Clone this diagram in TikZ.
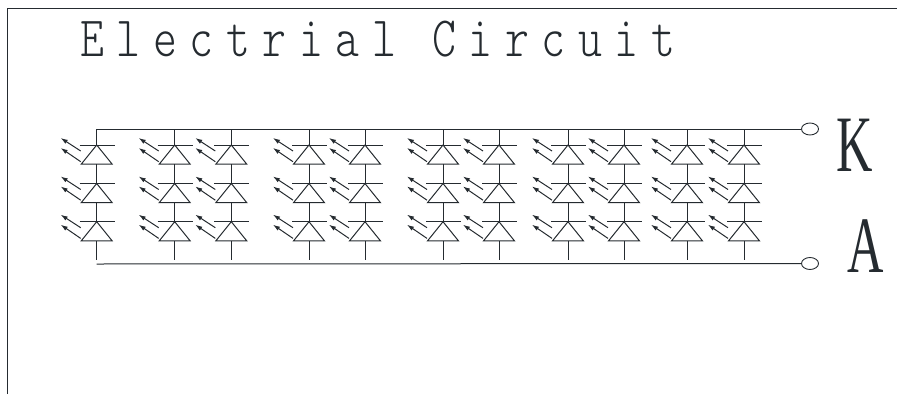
\documentclass[tikz,border=0pt]{standalone}
\usepackage{fontspec}
\usetikzlibrary{arrows.meta,shapes.geometric,calc}
\setmainfont{Liberation Serif}
\newfontfamily\titlefont[LetterSpace=27.5]{Latin Modern Mono Light}
\definecolor{ink}{HTML}{252B30}
\tikzset{
  wire/.style={draw=ink,line width=1pt},
  rail/.style={draw=ink,line width=1pt},
  light/.style={draw=ink,line width=1pt,-{Latex[length=7pt,width=4.6pt]}},
  terminal/.style={draw=ink,line width=0.9pt,ellipse,minimum width=17pt,minimum height=12pt,inner sep=0pt,fill=white},
  bigletter/.style={text=ink,font=\fontsize{80}{80}\selectfont,inner sep=0pt,xscale=0.63,transform shape,anchor=base},
  titletext/.style={text=ink,font=\titlefont\fontsize{57}{57}\selectfont,inner sep=0pt,xscale=0.8,transform shape,anchor=base west}
}
\begin{document}
\begin{tikzpicture}[x=1pt,y=-1pt]
\useasboundingbox (0,0) rectangle (897,394);
\draw[rail] (7.5,394) -- (7.5,8) -- (897,8);
\node[titletext] (title) at (80,56) {Electrial Circuit};
\node[terminal] (tk) at (810,129) {};
\node[terminal] (ta) at (810,263.5) {};
\node[bigletter] (lk) at (855,171) {K};
\node[bigletter] (la) at (865.5,272) {A};
\coordinate (rk) at (96.7,129);
\coordinate (ra) at (96.7,264);
\draw[rail] (rk) -- (tk);
\draw[rail] (ra) -- (ta);
\foreach \c/\x in {1/96.7,2/174.7,3/231.3,4/309,5/365,6/443,7/499,8/568,9/624,10/687,11/744}{
  \coordinate (top\c) at (\x,129);
  \coordinate (end\c) at (\x,260);
  \foreach \r/\y in {1/145,2/183.5,3/221.7}{
    \coordinate (a\c-\r) at (\x,\y);
    \coordinate (b\c-\r) at (\x,\y+19.2);
    \draw[wire] ([xshift=-17pt]a\c-\r) -- ([xshift=18pt]a\c-\r);
    \draw[wire] (a\c-\r) -- ([xshift=-15.5pt]b\c-\r) -- ([xshift=15.5pt]b\c-\r) -- cycle;
    \draw[light] ($(a\c-\r)+(-16,6)$) -- ($(a\c-\r)+(-36,-7)$);
    \draw[light] ($(a\c-\r)+(-16,16.7)$) -- ($(a\c-\r)+(-36,3)$);
  }
  \draw[wire] (top\c) -- (a\c-1);
  \draw[wire] (b\c-1) -- (a\c-2);
  \draw[wire] (b\c-2) -- (a\c-3);
  \draw[wire] (b\c-3) -- (end\c);
}
\end{tikzpicture}
\end{document}
